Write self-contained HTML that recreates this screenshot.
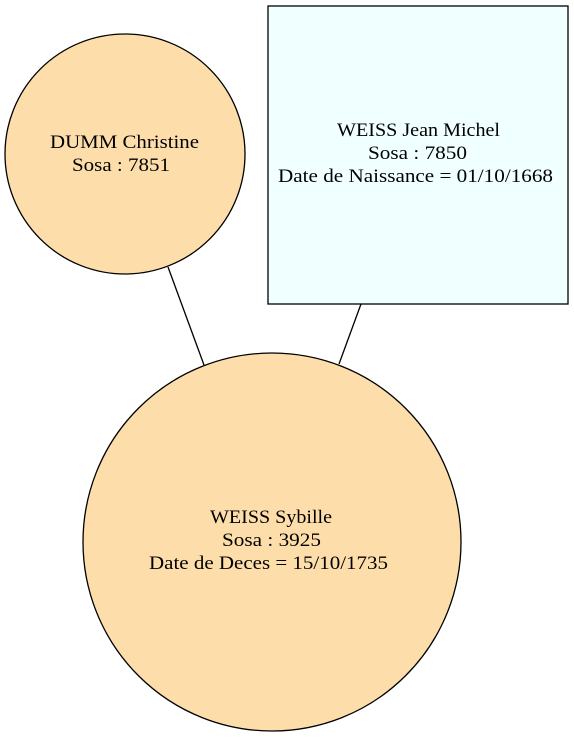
<!DOCTYPE html>
<html><head><style>html,body{margin:0;padding:0;background:#fff}</style></head>
<body>
<svg width="574" height="736" xmlns="http://www.w3.org/2000/svg" font-family="Liberation Serif, serif" font-size="19">
<rect width="574" height="736" fill="#fff"/>
<line x1="168" y1="267" x2="204" y2="365" stroke="#000" stroke-width="1.3"/>
<line x1="361" y1="304" x2="339" y2="364" stroke="#000" stroke-width="1.3"/>
<circle cx="125" cy="154" r="120" fill="#fddeab" stroke="#000" stroke-width="1.3"/>
<rect x="268" y="6" width="300" height="298" fill="#f0ffff" stroke="#000" stroke-width="1.3"/>
<circle cx="272" cy="542" r="189" fill="#fddeab" stroke="#000" stroke-width="1.3"/>
<g lengthAdjust="spacingAndGlyphs">
<text x="50" y="148" textLength="149" lengthAdjust="spacingAndGlyphs">DUMM Christine</text>
<text x="72" y="171" textLength="98" lengthAdjust="spacingAndGlyphs">Sosa : 7851</text>
<text x="337" y="136" textLength="163" lengthAdjust="spacingAndGlyphs">WEISS Jean Michel</text>
<text x="368" y="159" textLength="99" lengthAdjust="spacingAndGlyphs">Sosa : 7850</text>
<text x="278" y="182" textLength="275" lengthAdjust="spacingAndGlyphs">Date de Naissance = 01/10/1668</text>
<text x="210" y="523" textLength="122" lengthAdjust="spacingAndGlyphs">WEISS Sybille</text>
<text x="222" y="546" textLength="99" lengthAdjust="spacingAndGlyphs">Sosa : 3925</text>
<text x="149" y="569" textLength="239" lengthAdjust="spacingAndGlyphs">Date de Deces = 15/10/1735</text>
</g>
</svg>
</body></html>
